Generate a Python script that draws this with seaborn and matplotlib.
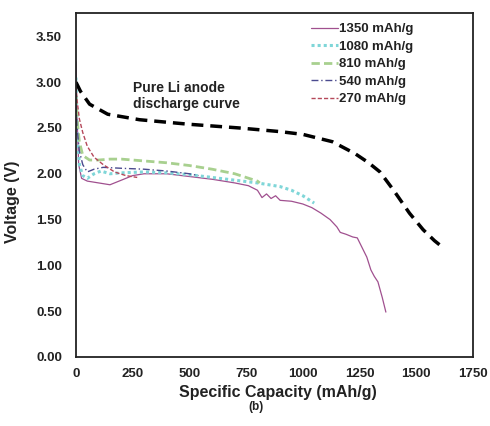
import matplotlib
matplotlib.use("Agg")
import matplotlib.pyplot as plt
import seaborn as sns
import pandas as pd

# ---- data ----
series_labels = ["1350 mAh/g", "1080 mAh/g", "810 mAh/g", "540 mAh/g", "270 mAh/g"]

cap_1350 = [0, 5, 12, 25, 50, 100, 150, 200, 250, 300, 400, 500, 600, 700, 760, 800, 820,
            840, 860, 880, 900, 950, 1000, 1040, 1080, 1120, 1150, 1165, 1190, 1220, 1240,
            1260, 1282, 1300, 1315, 1331, 1350, 1366]
v_1350 = [3.22, 2.6, 2.1, 1.95, 1.92, 1.90, 1.88, 1.93, 1.98, 2.00, 2.00, 1.97, 1.94, 1.90,
          1.87, 1.82, 1.74, 1.78, 1.73, 1.76, 1.71, 1.70, 1.67, 1.63, 1.57, 1.50, 1.42, 1.36,
          1.34, 1.31, 1.30, 1.20, 1.09, 0.95, 0.88, 0.82, 0.65, 0.49]

cap_1080 = [0, 5, 15, 30, 50, 80, 110, 150, 200, 300, 400, 500, 600, 700, 800, 850, 900,
            950, 1000, 1050]
v_1080 = [3.05, 2.5, 2.1, 1.98, 1.95, 2.00, 2.03, 2.00, 2.01, 2.02, 2.01, 1.99, 1.96, 1.93,
          1.90, 1.88, 1.86, 1.82, 1.76, 1.68]

cap_810 = [0, 5, 15, 30, 60, 100, 150, 200, 300, 400, 500, 600, 700, 750, 800, 810]
v_810 = [2.85, 2.6, 2.35, 2.2, 2.15, 2.15, 2.16, 2.16, 2.14, 2.12, 2.09, 2.05, 2.00, 1.96,
         1.92, 1.90]

cap_540 = [0, 5, 15, 30, 50, 80, 120, 200, 300, 400, 500, 540]
v_540 = [2.75, 2.5, 2.25, 2.1, 2.02, 2.05, 2.07, 2.06, 2.05, 2.03, 2.00, 1.98]

cap_270 = [0, 5, 15, 30, 50, 80, 120, 170, 220, 270]
v_270 = [2.95, 2.8, 2.6, 2.45, 2.3, 2.18, 2.1, 2.02, 1.98, 1.96]

cap_li = [0, 20, 60, 140, 280, 500, 720, 900, 1000, 1130, 1230, 1290, 1340, 1400, 1470,
          1530, 1580, 1615]
v_li = [3.0, 2.9, 2.76, 2.65, 2.59, 2.54, 2.50, 2.46, 2.43, 2.35, 2.22, 2.12, 2.02, 1.82,
        1.57, 1.39, 1.27, 1.20]

x_ticks = [0, 250, 500, 750, 1000, 1250, 1500, 1750]
y_ticks = [0.0, 0.5, 1.0, 1.5, 2.0, 2.5, 3.0, 3.5]

# ---- style ----
sns.set_theme(style="white")
plt.rcParams["font.family"] = ["Liberation Sans", "DejaVu Sans"]
plt.rcParams["font.weight"] = "bold"

fig = plt.figure(figsize=(4.9, 4.26), dpi=100)
ax = fig.add_axes([0.155, 0.162, 0.8103, 0.8075])

styles = [
    dict(color="#a0508f", lw=0.9, ls="-"),
    dict(color="#7fd6d8", lw=2.2, ls=(0, (1, 1))),
    dict(color="#a8d08f", lw=2.0, ls=(0, (3, 1.5))),
    dict(color="#4b4b8f", lw=1.0, ls=(0, (5, 2, 1, 2))),
    dict(color="#b5485a", lw=1.0, ls=(0, (3, 1.5))),
]
caps = [cap_1350, cap_1080, cap_810, cap_540, cap_270]
vals = [v_1350, v_1080, v_810, v_540, v_270]

for lab, c, v, st in zip(series_labels, caps, vals, styles):
    df = pd.DataFrame({"cap": c, "v": v})
    sns.lineplot(data=df, x="cap", y="v", ax=ax, sort=False, estimator=None,
                 color=st["color"], linewidth=st["lw"], linestyle=st["ls"], label=lab)

df_li = pd.DataFrame({"cap": cap_li, "v": v_li})
sns.lineplot(data=df_li, x="cap", y="v", ax=ax, sort=False, estimator=None,
             color="black", linewidth=2.5, linestyle=(0, (3.4, 2.0)), legend=False)

ax.set_xlim(0, 1750)
ax.set_ylim(0, 3.755)
ax.set_xticks(x_ticks)
ax.set_xticklabels([str(t) for t in x_ticks])
ax.set_yticks(y_ticks)
ax.set_yticklabels([f"{t:.2f}" for t in y_ticks])
ax.tick_params(axis="both", length=0, labelsize=9.5)
ax.tick_params(axis="y", pad=10)
ax.tick_params(axis="x", pad=8)
for lab in ax.get_xticklabels() + ax.get_yticklabels():
    lab.set_fontweight("bold")
    lab.set_color("#222222")

for s in ax.spines.values():
    s.set_color("#222222")
    s.set_linewidth(1.3)

ax.set_xlabel("Specific Capacity (mAh/g)", fontsize=11.5, fontweight="bold", color="#222222")
ax.set_ylabel("Voltage (V)", fontsize=11.5, fontweight="bold", color="#222222")
ax.xaxis.set_label_coords(0.509, -0.082)
ax.yaxis.set_label_coords(-0.141, 0.45)

ax.text(251, 2.85, "Pure Li anode\ndischarge curve", fontsize=10, fontweight="bold",
        va="center", ha="left", linespacing=1.15, color="#222222")

leg = ax.legend(loc="upper left", bbox_to_anchor=(0.576, 0.99), frameon=False,
                fontsize=9.5, handlelength=2.0, handletextpad=0.1, labelspacing=0.4,
                borderpad=0)
for t in leg.get_texts():
    t.set_fontweight("bold")
    t.set_color("#222222")

fig.text(0.522, 0.0446, "(b)", fontsize=8.5, fontweight="bold", ha="center", va="center",
         color="#222222")

fig.savefig("out.png", dpi=100)
